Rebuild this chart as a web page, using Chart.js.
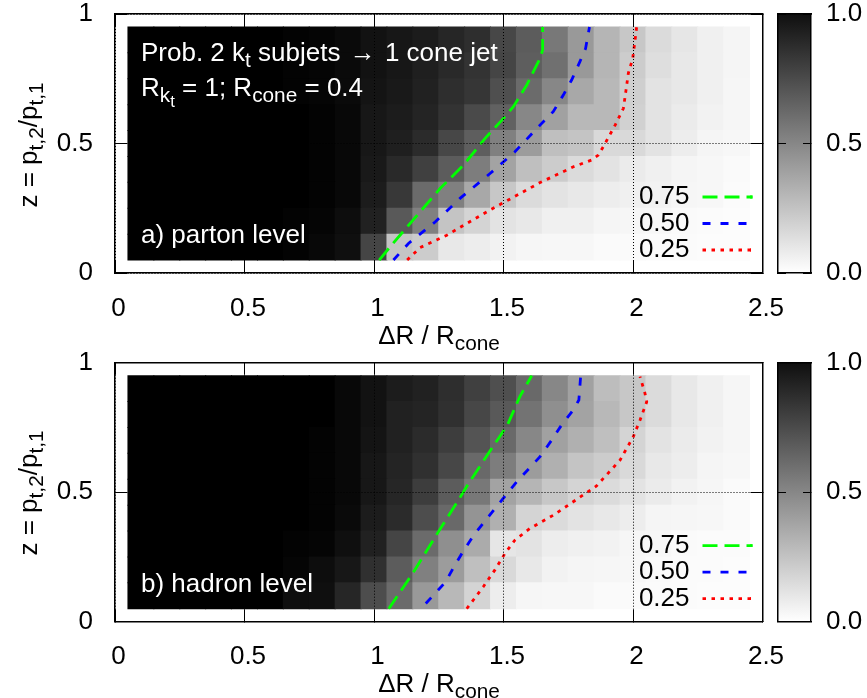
<!DOCTYPE html>
<html>
<head>
<meta charset="utf-8">
<title>Prob. 2 kt subjets to 1 cone jet</title>
<script src="https://cdn.jsdelivr.net/npm/chart.js@4/dist/chart.umd.min.js"></script>
<style>
  html, body { margin: 0; background: #fff; }
  #page { position: relative; width: 867px; height: 698px; overflow: hidden; font-family: "Liberation Sans", sans-serif; }
  canvas { position: absolute; left: 0; }
  .label { position: absolute; white-space: nowrap; font-size: 26px; line-height: 28px; color: #000; }
  .inplot { color: #fff; }
  .ylabel { transform: translate(-50%, -50%) rotate(-90deg); }
  .xlabel { transform: translateX(-50%); }
  sub { font-size: 0.8em; line-height: 0; vertical-align: -0.3em; }
</style>
</head>
<body>
<div id="page">
  <canvas id="panelA" width="867" height="349" style="top:0"></canvas>
  <canvas id="barA" width="867" height="349" style="top:0"></canvas>
  <canvas id="panelB" width="867" height="349" style="top:349px"></canvas>
  <canvas id="barB" width="867" height="349" style="top:349px"></canvas>

  <div class="label inplot" style="left:141px;top:38px">Prob. 2 k<sub>t</sub> subjets <span style="margin:0 2px">&rarr;</span> 1 cone jet</div>
  <div class="label inplot" style="left:141px;top:73px">R<sub>k<sub>t</sub></sub> = 1; R<sub>cone</sub> = 0.4</div>
  <div class="label inplot" style="left:141px;top:220px">a) parton level</div>
  <div class="label inplot" style="left:141px;top:569px">b) hadron level</div>

  <div class="label xlabel" style="left:439px;top:321px">&Delta;R / R<sub>cone</sub></div>
  <div class="label xlabel" style="left:439px;top:669px">&Delta;R / R<sub>cone</sub></div>
  <div class="label ylabel" style="left:28px;top:145px">z = p<sub>t,2</sub>/p<sub>t,1</sub></div>
  <div class="label ylabel" style="left:28px;top:493px">z = p<sub>t,2</sub>/p<sub>t,1</sub></div>
</div>

<script>
// Cell centres of the probability map
const xCentres = [0.1, 0.2, 0.3, 0.4, 0.5, 0.6, 0.7, 0.8, 0.9, 1.0, 1.1, 1.2, 1.3, 1.4, 1.5, 1.6, 1.7, 1.8, 1.9, 2.0, 2.1, 2.2, 2.3, 2.4];
const zCentres = [0.9, 0.8, 0.7, 0.6, 0.5, 0.4, 0.3, 0.2, 0.1];

// Tick labels
const xTickLabels = ["0", "0.5", "1", "1.5", "2", "2.5"];
const zTickLabels = ["0", "0.5", "1"];
const barTickLabels = ["0.0", "0.5", "1.0"];

// Probability per cell, top row first
const partonRows = [
  [1, 1, 1, 1, 1, 1, 0.99, 0.98, 0.96, 0.93, 0.91, 0.89, 0.85, 0.82, 0.72, 0.64, 0.53, 0.40, 0.29, 0.22, 0.14, 0.10, 0.06, 0.04],
  [1, 1, 1, 1, 1, 1, 0.99, 0.98, 0.96, 0.93, 0.91, 0.88, 0.84, 0.80, 0.73, 0.63, 0.56, 0.40, 0.29, 0.20, 0.13, 0.09, 0.06, 0.04],
  [1, 1, 1, 1, 1, 1, 0.99, 0.98, 0.96, 0.92, 0.90, 0.87, 0.82, 0.79, 0.69, 0.58, 0.47, 0.34, 0.28, 0.19, 0.11, 0.09, 0.06, 0.035],
  [1, 1, 1, 1, 1, 1, 1, 0.99, 0.97, 0.91, 0.89, 0.86, 0.80, 0.71, 0.62, 0.47, 0.37, 0.28, 0.28, 0.18, 0.11, 0.08, 0.05, 0.035],
  [1, 1, 1, 1, 1, 1, 1, 0.99, 0.97, 0.91, 0.88, 0.83, 0.72, 0.63, 0.50, 0.39, 0.25, 0.23, 0.15, 0.15, 0.11, 0.07, 0.04, 0.03],
  [1, 1, 1, 1, 1, 1, 1, 0.99, 0.97, 0.90, 0.84, 0.75, 0.64, 0.51, 0.36, 0.25, 0.20, 0.14, 0.11, 0.08, 0.06, 0.04, 0.03, 0.02],
  [1, 1, 1, 1, 1, 1, 1, 0.99, 0.97, 0.89, 0.78, 0.58, 0.50, 0.34, 0.22, 0.14, 0.11, 0.09, 0.07, 0.06, 0.05, 0.035, 0.03, 0.015],
  [1, 1, 1, 1, 1, 1, 0.99, 0.98, 0.95, 0.87, 0.65, 0.50, 0.23, 0.17, 0.11, 0.09, 0.06, 0.06, 0.04, 0.035, 0.03, 0.02, 0.015, 0.01],
  [1, 1, 1, 1, 1, 1, 0.99, 0.97, 0.94, 0.73, 0.23, 0.20, 0.09, 0.07, 0.05, 0.035, 0.03, 0.03, 0.02, 0.02, 0.015, 0.015, 0.01, 0.01],
];
const hadronRows = [
  [1, 1, 1, 1, 1, 1, 1, 1, 0.97, 0.93, 0.89, 0.87, 0.82, 0.75, 0.69, 0.59, 0.47, 0.37, 0.26, 0.22, 0.14, 0.09, 0.06, 0.035],
  [1, 1, 1, 1, 1, 1, 1, 1, 0.97, 0.93, 0.87, 0.86, 0.81, 0.72, 0.65, 0.55, 0.44, 0.36, 0.28, 0.22, 0.14, 0.09, 0.06, 0.035],
  [1, 1, 1, 1, 1, 1, 1, 0.99, 0.97, 0.92, 0.87, 0.83, 0.76, 0.67, 0.59, 0.47, 0.37, 0.31, 0.25, 0.17, 0.11, 0.08, 0.05, 0.035],
  [1, 1, 1, 1, 1, 1, 1, 0.99, 0.97, 0.91, 0.86, 0.81, 0.72, 0.59, 0.51, 0.39, 0.31, 0.23, 0.20, 0.15, 0.09, 0.07, 0.04, 0.03],
  [1, 1, 1, 1, 1, 1, 1, 0.99, 0.97, 0.91, 0.85, 0.76, 0.64, 0.53, 0.36, 0.29, 0.22, 0.17, 0.14, 0.11, 0.08, 0.05, 0.035, 0.02],
  [1, 1, 1, 1, 1, 1, 1, 0.99, 0.96, 0.89, 0.83, 0.70, 0.59, 0.42, 0.31, 0.17, 0.14, 0.11, 0.09, 0.07, 0.04, 0.035, 0.03, 0.02],
  [1, 1, 1, 1, 1, 1, 0.99, 0.98, 0.94, 0.87, 0.73, 0.58, 0.44, 0.33, 0.10, 0.11, 0.07, 0.06, 0.05, 0.035, 0.03, 0.02, 0.015, 0.015],
  [1, 1, 1, 1, 1, 1, 0.98, 0.95, 0.91, 0.81, 0.64, 0.50, 0.39, 0.25, 0.15, 0.09, 0.05, 0.04, 0.035, 0.03, 0.02, 0.015, 0.015, 0.01],
  [1, 1, 1, 1, 1, 1, 0.945, 0.94, 0.85, 0.70, 0.58, 0.40, 0.28, 0.17, 0.07, 0.035, 0.03, 0.03, 0.02, 0.02, 0.015, 0.015, 0.01, 0.01],
];

// Contours, [deltaR, z]
const parton75 = [[1.02, 0.05], [1.068, 0.108], [1.178, 0.236], [1.255, 0.326], [1.345, 0.416], [1.429, 0.52], [1.5, 0.597], [1.538, 0.642], [1.59, 0.726], [1.641, 0.829], [1.651, 0.861], [1.651, 0.95]];
const parton50 = [[1.075, 0.05], [1.133, 0.114], [1.236, 0.197], [1.332, 0.288], [1.448, 0.384], [1.544, 0.468], [1.641, 0.571], [1.692, 0.623], [1.731, 0.687], [1.763, 0.745], [1.795, 0.816], [1.817, 0.867], [1.832, 0.95]];
const parton25 = [[1.128, 0.05], [1.178, 0.098], [1.281, 0.146], [1.435, 0.236], [1.493, 0.268], [1.641, 0.349], [1.77, 0.41], [1.84, 0.436], [1.866, 0.455], [1.885, 0.487], [1.931, 0.571], [1.963, 0.636], [1.973, 0.706], [1.982, 0.771], [1.999, 0.829], [2.008, 0.899], [2.014, 0.95]];
const hadron75 = [[1.057, 0.05], [1.149, 0.186], [1.265, 0.373], [1.33, 0.476], [1.369, 0.54], [1.446, 0.656], [1.515, 0.759], [1.563, 0.869], [1.609, 0.95]];
const hadron50 = [[1.2, 0.07], [1.276, 0.153], [1.308, 0.211], [1.347, 0.276], [1.385, 0.334], [1.468, 0.438], [1.506, 0.485], [1.551, 0.54], [1.641, 0.637], [1.686, 0.701], [1.724, 0.759], [1.769, 0.817], [1.791, 0.856], [1.798, 0.95]];
const hadron25 = [[1.358, 0.05], [1.422, 0.135], [1.467, 0.2], [1.506, 0.264], [1.544, 0.315], [1.602, 0.36], [1.692, 0.411], [1.769, 0.463], [1.859, 0.524], [1.95, 0.624], [2.001, 0.714], [2.027, 0.778], [2.053, 0.849], [2.046, 0.883], [2.027, 0.946]];

const contourLabels = ["0.75", "0.50", "0.25"];
const contourColors = ["#00ff00", "#0000ff", "#ff0000"];
const contourDashes = [[15, 7], [8, 10], [3.5, 5.5]];

// Colour bar ends, as probabilities (its top is not quite black in the picture)
const barBottom = 0;
const barTop = 0.94;

const FONT_SIZE = 26;
const LINE_WIDTH = 2.8;

Chart.defaults.font.family = '"Liberation Sans", sans-serif';
Chart.defaults.font.size = FONT_SIZE;
Chart.defaults.color = "#000";
Chart.defaults.animation = false;

function greyFor(p) {
  const g = Math.round(255 * (1 - p));
  return `rgb(${g},${g},${g})`;
}

// Fixed room for an axis, so the plot area comes out the same for all charts
function fixedSize(size) {
  return (scale) => {
    if (scale.isHorizontal()) scale.height = size;
    else scale.width = size;
    scale.paddingLeft = scale.paddingRight = scale.paddingTop = scale.paddingBottom = 0;
  };
}

// Sets the legend where the keys sit in the plot, and above the cells
const legendPlace = {
  id: "legendPlace",
  afterLayout(chart) {
    const legend = chart.legend;
    legend.left = chart.chartArea.right - 9.5 - legend.width;
    legend.top = chart.chartArea.top + 169.5;
    legend.bottom = legend.top + legend.height + 10;
    legend.right = legend.left + legend.width;
  },
  afterDatasetsDraw(chart) {
    chart.legend.draw();
  },
};

function axisFrame(position, min, max, step, size, tickLength, labels, labelPadding, gridOn) {
  return {
    type: "linear",
    position: position,
    min: min,
    max: max,
    afterFit: fixedSize(size),
    afterBuildTicks(scale) {
      scale.ticks = [];
      for (let i = 0; min + i * step <= max + 1e-9; i++) scale.ticks.push({ value: min + i * step });
    },
    border: { display: true, color: "#000", width: 1.5, z: 2, dash: [1, 2] },
    grid: {
      z: 1,
      color: "#000",
      lineWidth: 1,
      drawOnChartArea: gridOn,
      drawTicks: true,
      tickLength: tickLength,
      tickColor: "#000",
      tickWidth: 1,
      tickBorderDash: [],
    },
    ticks: {
      display: labels !== null,
      padding: labelPadding,
      autoSkip: false,
      maxRotation: 0,
      callback: (v, i) => (labels ? labels[i] : ""),
    },
  };
}

function drawPanel(canvasId, rows, contours, topPad) {
  const heat = [];
  rows.forEach((row, r) => {
    row.forEach((p, c) => {
      heat.push({ x: xCentres[c], y: zCentres[r], p: p });
    });
  });

  const datasets = contours.map((points, i) => ({
    label: contourLabels[i],
    data: points.map((pt) => ({ x: pt[0], y: pt[1] })),
    showLine: true,
    pointRadius: 0,
    borderColor: contourColors[i],
    backgroundColor: contourColors[i],
    borderWidth: LINE_WIDTH,
    borderDash: contourDashes[i],
    tension: 0,
  }));

  datasets.push({
    label: "probability",
    data: heat,
    pointStyle: "rect",
    pointBorderWidth: 0,
    pointBackgroundColor: (ctx) => greyFor(ctx.raw ? ctx.raw.p : 0),
    // a rect point has half side radius * cos45; the extra pixel hides the seams
    pointRadius: (ctx) => {
      const xs = ctx.chart.scales.x;
      const side = Math.abs(xs.getPixelForValue(0.1) - xs.getPixelForValue(0));
      return (side + 1) * Math.SQRT1_2;
    },
  });

  const xAxis = axisFrame("bottom", 0, 2.5, 0.5, 349 - topPad - 259, -12, xTickLabels, 32, true);
  xAxis.ticks.labelOffset = 3.5;

  return new Chart(document.getElementById(canvasId), {
    type: "scatter",
    data: { datasets: datasets },
    options: {
      responsive: false,
      layout: { padding: 0 },
      scales: {
        x: xAxis,
        y: axisFrame("left", 0, 1, 0.5, 115, -12, zTickLabels, 34, true),
        xTop: axisFrame("top", 0, 2.5, 0.5, topPad, -12, null, 0, false),
        yRight: axisFrame("right", 0, 1, 0.5, 104.5, -12, null, 0, false),
      },
      plugins: {
        tooltip: { enabled: false },
        legend: {
          position: "chartArea",
          fullSize: false,
          align: "start",
          rtl: true,
          labels: {
            usePointStyle: true,
            pointStyleWidth: 50,
            padding: 0.5,
            font: { size: FONT_SIZE },
            color: "#000",
            generateLabels: () =>
              contourLabels.map((text, i) => ({
                text: text,
                datasetIndex: i,
                fillStyle: contourColors[i],
                strokeStyle: contourColors[i],
                lineWidth: LINE_WIDTH,
                lineDash: contourDashes[i],
                pointStyle: "line",
                rotation: 180,
                hidden: false,
              })),
          },
        },
      },
    },
    plugins: [legendPlace],
  });
}

function drawColourBar(canvasId, topPad) {
  const frameX = (position, size) => ({
    type: "category",
    position: position,
    labels: ["p"],
    afterFit: fixedSize(size),
    ticks: { display: false },
    grid: { display: false },
    border: { display: true, color: "#000", width: 1.5, z: 2 },
  });
  return new Chart(document.getElementById(canvasId), {
    type: "bar",
    data: {
      labels: ["p"],
      datasets: [{
        data: [[0, 1]],
        barPercentage: 1,
        categoryPercentage: 1,
        backgroundColor: (ctx) => {
          const area = ctx.chart.chartArea;
          if (!area) return greyFor(0.5);
          const g = ctx.chart.ctx.createLinearGradient(0, area.bottom, 0, area.top);
          g.addColorStop(0, greyFor(barBottom));
          g.addColorStop(1, greyFor(barTop));
          return g;
        },
      }],
    },
    options: {
      responsive: false,
      layout: { padding: 0 },
      scales: {
        x: frameX("bottom", 349 - topPad - 259),
        xTop: frameX("top", topPad),
        y: axisFrame("right", 0, 1, 0.5, 56, -8, barTickLabels, 23, false),
        yLeft: axisFrame("left", 0, 1, 0.5, 778, -8, null, 0, false),
      },
      plugins: { legend: { display: false }, tooltip: { enabled: false } },
    },
  });
}

drawPanel("panelA", partonRows, [parton75, parton50, parton25], 14);
drawColourBar("barA", 14);
drawPanel("panelB", hadronRows, [hadron75, hadron50, hadron25], 13.7);
drawColourBar("barB", 13.7);
</script>
</body>
</html>
